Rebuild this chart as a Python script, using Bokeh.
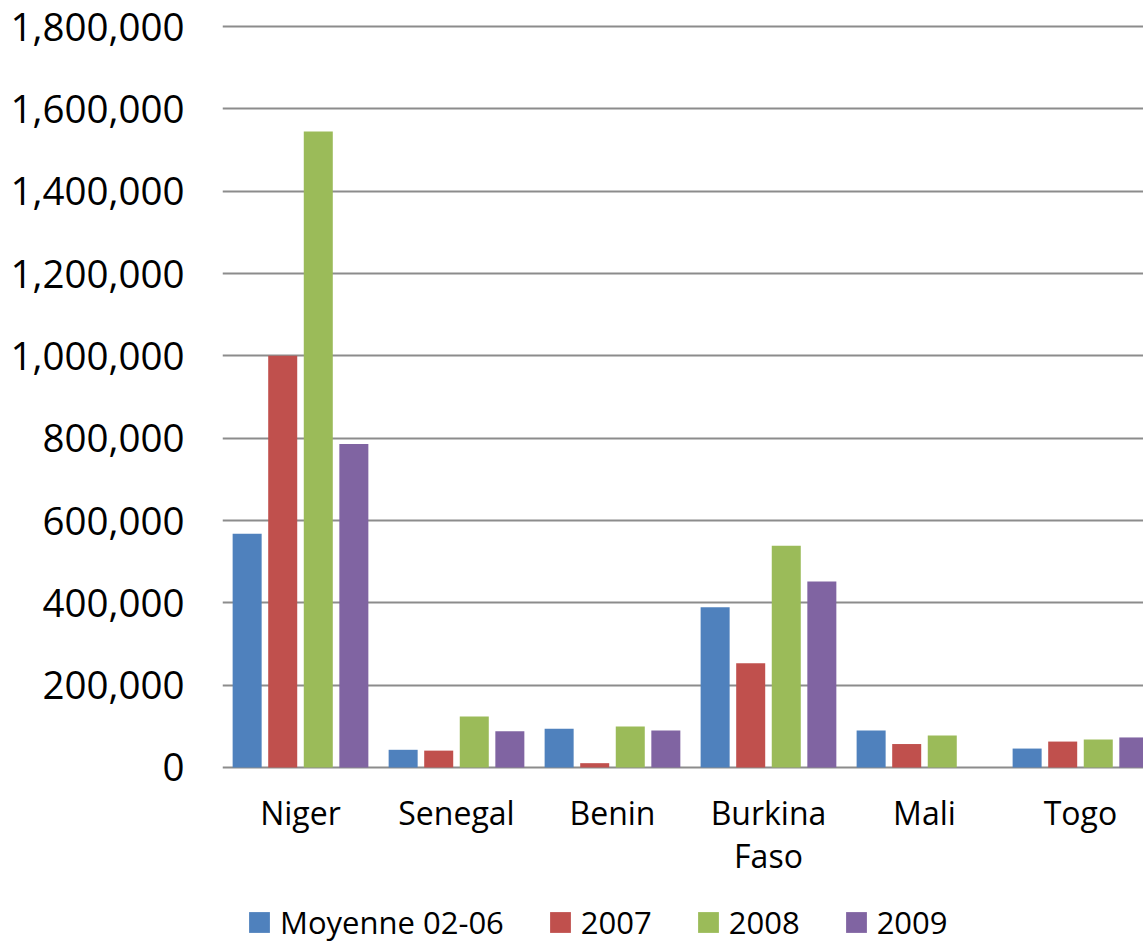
from bokeh.plotting import figure
from bokeh.models import (ColumnDataSource, Range1d, FixedTicker, NumeralTickFormatter,
                          Legend, LegendItem)
from bokeh.core.properties import value
from bokeh.transform import dodge
from bokeh.embed import file_html
from bokeh.resources import INLINE

categories = ["Niger", "Senegal", "Benin", "Burkina Faso", "Mali", "Togo"]
tick_labels = ["Niger", "Senegal", "Benin", "Burkina\nFaso", "Mali", "Togo"]
series_names = ["Moyenne 02-06", "2007", "2008", "2009"]
moyenne = [568000, 43000, 94000, 389000, 90000, 46000]
y2007 = [1000000, 41000, 10500, 253000, 57000, 63000]
y2008 = [1545000, 124000, 99600, 539000, 78000, 68000]
y2009 = [786000, 88000, 90000, 452000, 0, 73000]
colors = ["#4F81BD", "#C0504D", "#9BBB59", "#8064A2"]
y_ticks = [0, 200000, 400000, 600000, 800000, 1000000, 1200000, 1400000, 1600000, 1800000]

xpos = [i + 0.5 for i in range(len(categories))]
src = ColumnDataSource(dict(x=xpos, s0=moyenne, s1=y2007, s2=y2008, s3=y2009))
lab_src = ColumnDataSource(dict(x=xpos, y=[0] * len(xpos), t=tick_labels))

FONT = "Open Sans"

p = figure(width=1143, height=944, output_backend="svg", toolbar_location=None,
           x_range=Range1d(0, 5.904), y_range=Range1d(-430000, 1805000),
           min_border_left=222, min_border_right=0, min_border_top=24,
           min_border_bottom=0)
p.outline_line_color = None
p.background_fill_color = "white"
p.border_fill_color = "white"

step = 0.228
bw = 0.186
renderers = []
for k, col in enumerate(["s0", "s1", "s2", "s3"]):
    r = p.vbar(x=dodge("x", (k - 1.5) * step), top=col, width=bw, source=src,
               fill_color=colors[k], line_color=None)
    renderers.append(r)

# category labels under the baseline
p.text(x="x", y="y", text="t", source=lab_src, y_offset=24,
       text_align="center", text_baseline="top", text_font=value(FONT),
       text_font_size="32px", text_color="black", text_line_height=1.0)

# y axis
p.yaxis.ticker = FixedTicker(ticks=y_ticks)
p.yaxis.formatter = NumeralTickFormatter(format="0,0")
p.yaxis.axis_line_color = None
p.yaxis.major_tick_line_color = None
p.yaxis.major_tick_out = 0
p.yaxis.major_tick_in = 0
p.yaxis.minor_tick_line_color = None
p.yaxis.major_label_standoff = 38
p.yaxis.major_label_text_font = FONT
p.yaxis.major_label_text_font_size = "38.5px"
p.yaxis.major_label_text_color = "black"

p.xaxis.visible = False
p.xgrid.grid_line_color = None
p.ygrid.ticker = FixedTicker(ticks=y_ticks)
p.ygrid.grid_line_color = "#8c8c8c"
p.ygrid.grid_line_width = 2

legend = Legend(items=[LegendItem(label=n, renderers=[r]) for n, r in zip(series_names, renderers)],
                orientation="horizontal", location=(24, 1),
                glyph_width=26, glyph_height=26, label_standoff=8, spacing=43,
                padding=0, margin=0, border_line_color=None, background_fill_alpha=0,
                label_text_font=FONT, label_text_font_size="31px", label_text_color="black")
p.add_layout(legend, "center")

open("out.html", "w").write(file_html(p, INLINE))
